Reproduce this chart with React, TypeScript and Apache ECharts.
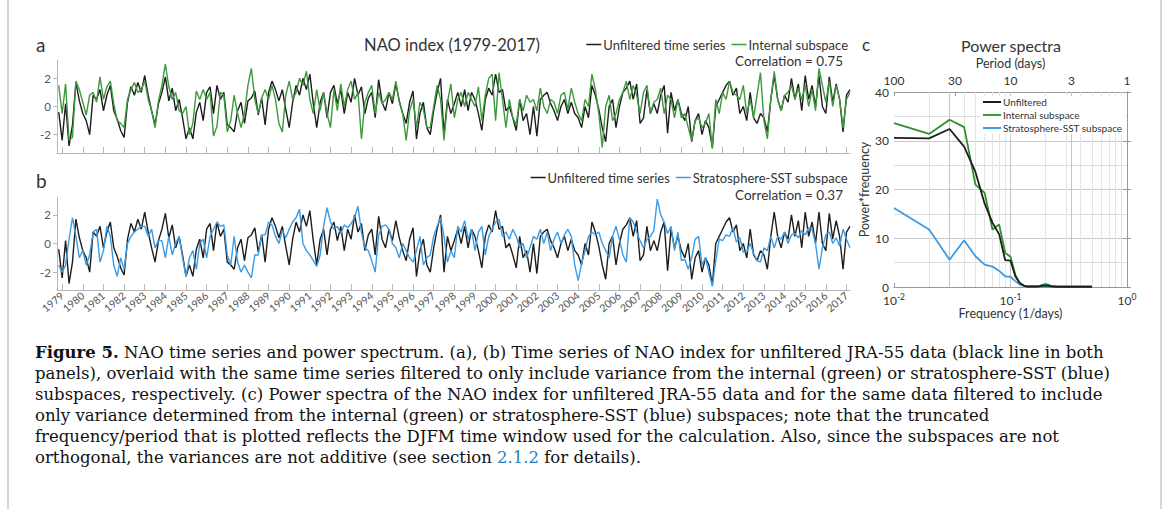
import React, { useEffect, useRef } from 'react';
import * as echarts from 'echarts';

// ---------- data ----------
const YEAR_TICKS = [
  1979, 1980, 1981, 1982, 1983, 1984, 1985, 1986, 1987, 1988, 1989, 1990, 1991,
  1992, 1993, 1994, 1995, 1996, 1997, 1998, 1999, 2000, 2001, 2002, 2003, 2004,
  2005, 2006, 2007, 2008, 2009, 2010, 2011, 2012, 2013, 2014, 2015, 2016, 2017,
];
const NAO_TICKS = [-2, 0, 2];

// NAO index, 6 samples per winter (first sample at 1978.83)
const UNFILTERED = [
  -0.4, -2.4, 0.2, -2.8, -1.3, 1.7,
  0.4, -0.5, -1.0, -2.0, 0.8, 0.5,
  1.2, -0.3, 0.8, 1.5, -0.3, -0.9,
  -1.7, -2.2, 0.3, 1.4, 0.8, 1.7,
  1.0, 2.2, 0.8, -0.3, -1.3, 0.2,
  1.0, 2.1, 0.4, 1.3, -0.3, 0.5,
  -0.8, -2.3, -1.5, -2.3, -0.4, 0.3,
  -1.0, 1.0, 1.4, -0.5, 1.5, 0.5,
  1.0, -1.3, -1.5, -1.8, -0.3, 0.3,
  -1.2, 0.4, 0.6, 1.1, -0.6, 0.6,
  -1.3, 1.0, 1.8, 1.2, 0.4, 1.2,
  -0.2, -1.5, 0.3, 1.5, 0.8, 2.0,
  1.2, 2.3, 0.2, -1.5, 0.3, 1.0,
  -0.8, 1.0, 1.5, 0.2, 1.2, -0.5,
  1.0, 0.3, 2.0, 0.8, 1.4, -0.5,
  0.6, 1.0, -0.8, 1.9, 0.3, -0.3,
  1.0, 0.2, 1.6, 0.4, -0.5, -1.2,
  0.3, 1.1, -2.3, -0.5, 0.3, -1.5,
  -2.0, -0.3, 1.0, 2.0, -2.0, 0.5,
  -0.5, 0.2, 1.0, 0.0, 1.2, -0.3,
  1.0, 0.5, -0.5, -1.7, 0.5, 1.3,
  0.8, 2.3, 1.0, 1.2, -0.3, 0.0,
  -0.8, -1.7, 0.5, -1.0, -0.5, -2.0,
  0.0, -2.1, 0.5, 0.8, 1.0, 0.2,
  -0.3, -1.0, 0.0, 0.5, -0.5, 0.3,
  -0.5, -0.8, -1.5, 0.0, -0.8, 1.5,
  0.8, -0.2, -1.5, -2.5, 0.0, 0.5,
  -1.5, 0.0, 1.0, 1.3, 1.8, 0.5,
  1.6, -1.2, -0.8, 1.2, -0.5, 0.2,
  -0.5, 0.8, 1.5, -1.9, 1.0, -0.3,
  0.5, -0.5, -1.0, 0.0, -2.5, -1.0,
  -0.5, -2.0, -1.0, -1.5, -2.9, 0.0,
  0.5, 1.0, 1.5, 1.8, 0.8, 1.3,
  -0.5, 0.0, -1.0, 1.0, -0.8, -1.2,
  -0.5, -0.8, -1.8, 0.5, 2.2, 0.5,
  -0.3, 0.8, 0.3, 2.0, 0.5, 1.6,
  -0.3, 2.2, 0.5, 1.5, 0.0, 2.2,
  0.0, -0.5, 2.1, 0.3, 1.6, 0.5,
  -1.8, 0.8, 1.2,
];

const INTERNAL = [
  1.5, -0.5, 1.6, -2.4, -2.2, 1.8,
  1.2, 0.3, -0.6, 0.8, 1.0, 0.3,
  2.1, 0.5, 1.4, 1.8, 0.2, -1.0,
  -1.2, -1.5, 0.5, 1.2, 1.7, 1.0,
  1.2, 1.8, 0.5, -0.3, -1.5, 0.4,
  1.5, 3.0, 1.4, 0.5, 1.0, -0.3,
  -0.5, 0.0, -2.0, -1.2, 1.1, 0.5,
  1.2, 0.5, 1.0, -2.1, -1.4, 1.0,
  0.8, -1.8, -1.0, 0.8, -0.5, -1.5,
  -0.5, 1.5, 2.7, 0.5, -0.5, 0.6,
  1.2, 0.5, 1.5, 0.5, -1.2, -1.8,
  0.8, 1.8, 0.5, 1.0, 2.0, 1.5,
  2.5, 0.5, -0.5, 1.2, -0.3, 1.0,
  -0.5, -1.5, 1.2, -0.3, 1.6, 0.0,
  1.2, 1.8, 0.5, 1.0, -2.3, 0.3,
  1.0, 1.5, -0.5, 1.0, 0.2, 0.5,
  1.0, 0.5, 1.8, 0.3, -0.5, -2.4,
  -0.3, 0.5, -1.5, 0.3, -0.2, -1.5,
  -1.5, 0.0, 1.5, 0.5, -2.4, 0.3,
  1.6, -0.8, 0.5, 1.0, 0.0, 1.0,
  0.5, 0.0, 1.4, -1.0, 0.8, 2.0,
  2.3, -1.0, 2.4, 0.5, -1.5, 0.5,
  -0.8, -1.3, 0.5, -0.3, 0.8, 0.3,
  0.5, -0.3, 1.3, 0.0, -0.5, 0.5,
  0.3, -0.5, 0.8, 1.0, -0.2, 1.3,
  0.3, -0.5, -1.0, 0.5, 0.0, 2.3,
  1.2, -0.5, -2.9, 0.0, 0.8, -1.0,
  -0.5, 0.5, 1.0, 1.8, 0.5, 1.5,
  0.8, -0.5, 1.0, 1.5, -0.5, 0.3,
  0.5, 1.3, -0.5, 0.8, 0.5, -0.8,
  0.5, -0.8, -0.5, -1.5, -2.4, -1.0,
  -0.8, -1.5, -1.2, -0.5, -3.0, 0.5,
  -0.5, 1.0, 0.5, 1.8, 1.0, 0.8,
  0.5, 1.5, -0.5, 0.5, -0.8, 0.8,
  2.4, -1.0, -2.3, 0.5, 2.5, 0.5,
  -0.3, 0.8, 1.0, 1.5, 0.5, 1.3,
  0.5, 1.5, 0.0, 1.2, -0.3, 2.7,
  1.5, 0.3, 1.8, 0.0, 1.5, 0.5,
  -1.5, 0.5, 1.0,
];

const STRAT_SST = [
  -1.5, -2.0, -1.5, 0.3, 1.8, 0.5,
  -1.0, -0.5, -1.5, -0.8, 0.8, 1.0,
  -1.3, -0.5, 1.2, 0.5, -1.5, -2.3,
  -1.0, -1.8, 0.0, 0.5, 0.8, 1.0,
  1.2, 1.2, 0.5, 1.0, -0.3, 0.2,
  0.2, -1.0, 0.5, -0.8, 0.0, 0.5,
  -1.0, -2.3, -1.0, -0.5, -1.8, 0.0,
  0.3, -1.0, 0.5, 1.0, 1.5, 1.2,
  1.3, -0.8, -1.5, 0.5, -1.3, -2.0,
  -1.5, -2.0, -2.4, -0.8, -0.8, 0.6,
  0.6, 1.5, 1.3, 0.5, 0.0, 0.9,
  0.4, 1.0, 1.5, 1.8, 2.4, 0.0,
  -0.5, -0.8, -1.2, -1.6, -0.8, 1.2,
  2.5, 1.5, 1.0, 1.2, 0.7, 1.3,
  1.1, 1.4, 1.8, 2.6, 0.8, -0.3,
  -0.5, -1.2, -2.0, 0.6, 1.2, 1.3,
  1.0, 0.0, -0.3, -1.0, 0.0, -0.5,
  -1.0, -1.3, -0.5, 0.5, -1.5, -1.0,
  -0.8, 0.5, 1.2, 1.8, 0.5, -1.3,
  -0.5, -1.0, 1.2, 0.8, 1.6, 0.3,
  1.0, -0.5, 0.8, 1.2, -0.8, 0.5,
  1.0, 1.5, 1.7, 0.5, 0.8, 0.3,
  1.0, 0.5, -0.3, 0.0, -1.0, -0.3,
  0.5, 0.3, 1.0, 0.0, 0.8, -0.5,
  0.3, 0.8, 0.0, 0.6, 1.0, 0.5,
  -1.5, -2.6, -1.4, -0.5, 0.5, 0.8,
  0.6, 0.8, 0.0, -0.5, -1.0, 0.5,
  1.2, 0.3, -0.8, -1.3, 1.8, 1.5,
  0.8, 0.2, -0.3, 0.3, 0.5, 0.9,
  3.1, 2.0, 1.5, 0.7, 1.2, -0.5,
  0.8, -1.2, -1.1, -1.8, -1.0, 0.3,
  0.5, -1.5, -1.0, -2.0, -3.0, -1.2,
  0.3, 0.2, 0.6, 0.5, 1.1, 0.1,
  0.4, -0.6, -0.6, 0.0, -0.7, -1.2,
  -1.3, -0.3, -0.5, 0.5, -0.3, 0.5,
  0.3, 0.8, 0.0, 0.6, 0.7, 0.4,
  0.9, 0.6, 1.1, 1.0, 0.0, -1.8,
  -0.3, 0.6, 0.8, 0.0, 0.4, -0.2,
  1.0, 0.3, -0.3,
];

// Power spectra (frequency 0.01 ... 0.50 1/days)
const SPEC_UNFILTERED = [
  30.6, 30.5, 32.4, 28.8, 23.6, 17.1, 13.2, 10.8, 5.5, 5.4,
  2.2, 0.8, 0.3, 0.1, 0.1, 0.1, 0.1, 0.2, 0.3, 0.3,
  0.3, 0.2, 0.1, 0.1, 0.05, 0.05, 0.05, 0.05, 0.05, 0.05,
  0.05, 0.05, 0.05, 0.05, 0.05, 0.05, 0.05, 0.05, 0.05, 0.05,
  0.05, 0.05, 0.05, 0.05, 0.05, 0.05, 0.05, 0.05, 0.05, 0.05,
];
const SPEC_INTERNAL = [
  33.6, 31.4, 34.3, 32.8, 21.0, 19.3, 11.8, 12.8, 7.0, 6.2,
  2.5, 0.8, 0.3, 0.1, 0.1, 0.1, 0.2, 0.3, 0.5, 0.6,
  0.5, 0.3, 0.1, 0.05, 0.05, 0.05, 0.05, 0.05, 0.05, 0.05,
  0.05, 0.05, 0.05, 0.05, 0.05, 0.05, 0.05, 0.05, 0.05, 0.05,
  0.05, 0.05, 0.05, 0.05, 0.05, 0.05, 0.05, 0.05, 0.05, 0.05,
];
const SPEC_STRAT = [
  16.2, 11.8, 5.6, 9.6, 6.3, 4.6, 4.2, 3.3, 2.2, 2.1,
  1.2, 0.5, 0.2, 0.1, 0.05, 0.05, 0.05, 0.05, 0.05, 0.05,
  0.05, 0.05, 0.05, 0.05, 0.05, 0.05, 0.05, 0.05, 0.05, 0.05,
  0.05, 0.05, 0.05, 0.05, 0.05, 0.05, 0.05, 0.05, 0.05, 0.05,
  0.05, 0.05, 0.05, 0.05, 0.05, 0.05, 0.05, 0.05, 0.05, 0.05,
];
const PERIOD_TICKS = [100, 30, 10, 3, 1];
const MINOR_FREQ = [0.02, 0.03, 0.04, 0.05, 0.06, 0.07, 0.08, 0.09, 0.2, 0.3, 0.4, 0.5, 0.6, 0.7, 0.8, 0.9];
const SPEC_Y_TICKS = [0, 10, 20, 30, 40];

const CAPTION = [
  '{b|Figure 5.} NAO time series and power spectrum. (a), (b) Time series of NAO index for unfiltered JRA-55 data (black line in both',
  'panels), overlaid with the same time series filtered to only include variance from the internal (green) or stratosphere-SST (blue)',
  'subspaces, respectively. (c) Power spectra of the NAO index for unfiltered JRA-55 data and for the same data filtered to include',
  'only variance determined from the internal (green) or stratosphere-SST (blue) subspaces; note that the truncated',
  'frequency/period that is plotted reflects the DJFM time window used for the calculation. Also, since the subspaces are not',
  'orthogonal, the variances are not additive (see section {l|2.1.2} for details).',
];

// ---------- helpers ----------
const T0 = 1979 - 1 / 6;
const toTime = (arr: number[]) => arr.map((v, i) => [T0 + i / 6, v]);
const FREQ = SPEC_UNFILTERED.map((_, i) => (i + 1) / 100);
const toSpec = (arr: number[]) => arr.map((v, i) => [FREQ[i], v]);

const FONT = 'Lato, "Open Sans", sans-serif';
const SERIF = '"DejaVu Serif", "Liberation Serif", serif';
const AX = '#b8b8b8';
const LBL = '#555';
const BLACK = '#1d1d1d';
const GREEN = '#3c9a3c';
const BLUE = '#3a9be6';
const CAP_SIZE = 16.5;
const CAP_LH = 19;

export default function App() {
  const ref = useRef<HTMLDivElement>(null);

  useEffect(() => {
    if (!ref.current) return;
    const chart = echarts.init(ref.current, undefined, { renderer: 'svg' });

    const timeXAxis = (grid: number, labels: boolean) => ({
      gridIndex: grid,
      type: 'value',
      min: 1978.75,
      max: 2017.17,
      splitLine: { show: false },
      axisLine: { show: true, onZero: false, lineStyle: { color: AX, width: 1 } },
      axisTick: { show: true, inside: true, length: 6, customValues: YEAR_TICKS, lineStyle: { color: AX } },
      axisLabel: labels
        ? {
            show: true,
            customValues: YEAR_TICKS,
            rotate: 40,
            fontSize: 10.5,
            color: LBL,
            fontFamily: FONT,
            margin: 4,
            formatter: (v: number) => String(Math.round(v)),
          }
        : { show: false },
    });
    const timeYAxis = (grid: number, lim: number) => ({
      gridIndex: grid,
      type: 'value',
      min: -lim,
      max: lim,
      splitLine: { show: false },
      axisLine: { show: true, lineStyle: { color: AX } },
      axisTick: { show: true, length: 4, customValues: NAO_TICKS, lineStyle: { color: AX } },
      axisLabel: {
        customValues: NAO_TICKS,
        fontSize: 11.5,
        color: LBL,
        fontFamily: FONT,
        margin: 6,
      },
    });

    const periodPos = PERIOD_TICKS.map((p) => Math.log10(1 / p));

    const text = (t: string, x: number, y: number, size: number, align = 'left', extra: any = {}) => ({
      type: 'text',
      x,
      y,
      silent: true,
      style: {
        text: t,
        fontSize: size,
        fontFamily: FONT,
        fill: '#333',
        align,
        verticalAlign: 'middle',
        ...extra,
      },
    });

    const legendText = { fontSize: 13, color: '#333', fontFamily: FONT, padding: [0, 0, 0, -3] };

    const option: any = {
      animation: false,
      backgroundColor: '#fff',
      textStyle: { fontFamily: FONT },
      grid: [
        { left: 57, top: 60, width: 793, height: 93 },
        { left: 57, top: 197, width: 793, height: 93 },
        { left: 894, top: 92, width: 233, height: 195 },
      ],
      xAxis: [
        timeXAxis(0, false),
        timeXAxis(1, true),
        {
          gridIndex: 2,
          type: 'log',
          logBase: 10,
          min: 0.01,
          max: 1,
          splitLine: { show: false },
          axisLine: { show: true, onZero: false, lineStyle: { color: '#999' } },
          axisTick: { show: true, inside: true, length: 4, lineStyle: { color: '#999' } },
          axisLabel: {
            fontSize: 12,
            color: '#333',
            margin: 5,
            formatter: (v: number) => `{b|10}{s|${Math.round(Math.log10(v))}}`,
            rich: {
              b: { fontSize: 12, color: '#333', fontFamily: FONT },
              s: { fontSize: 8.5, color: '#333', fontFamily: FONT, padding: [0, 0, 8, 0] },
            },
          },
          name: 'Frequency (1/days)',
          nameLocation: 'middle',
          nameGap: 15,
          nameTextStyle: { fontSize: 12.5, color: '#333', fontFamily: FONT },
        },
        {
          gridIndex: 2,
          type: 'value',
          position: 'top',
          min: -2,
          max: 0,
          splitLine: { show: false },
          axisLine: { show: true, onZero: false, lineStyle: { color: '#999' } },
          axisTick: { show: true, inside: true, length: 4, customValues: periodPos, lineStyle: { color: '#999' } },
          axisLabel: {
            customValues: periodPos,
            fontSize: 12,
            color: '#333',
            margin: 6,
            formatter: (v: number) => String(Math.round(Math.pow(10, -v))),
          },
          name: 'Period (days)',
          nameLocation: 'middle',
          nameGap: 22,
          nameTextStyle: { fontSize: 12.5, color: '#333', fontFamily: FONT },
        },
      ],
      yAxis: [
        timeYAxis(0, 3.3),
        timeYAxis(1, 3.25),
        {
          gridIndex: 2,
          type: 'value',
          min: 0,
          max: 40,
          interval: 10,
          axisLine: { show: true, lineStyle: { color: '#999' } },
          axisTick: { show: true, inside: true, length: 4, lineStyle: { color: '#999' } },
          axisLabel: { fontSize: 12, color: '#333', margin: 5, customValues: SPEC_Y_TICKS },
          splitLine: { show: true, lineStyle: { color: '#c9c9c9', width: 1 } },
          minorTick: { show: false, splitNumber: 2 },
          minorSplitLine: { show: true, lineStyle: { color: '#dedede', width: 1 } },
          name: 'Power*frequency',
          nameLocation: 'middle',
          nameGap: 21,
          nameTextStyle: { fontSize: 12.5, color: '#333', fontFamily: FONT },
        },
        {
          gridIndex: 2,
          type: 'value',
          position: 'right',
          min: 0,
          max: 40,
          interval: 10,
          axisLine: { show: true, lineStyle: { color: '#999' } },
          axisTick: { show: true, inside: true, length: 4, lineStyle: { color: '#999' } },
          axisLabel: { show: false },
          splitLine: { show: false },
        },
      ],
      legend: [
        {
          data: ['Unfiltered time series', 'Internal subspace'],
          right: 323,
          top: 38,
          icon: 'rect',
          itemWidth: 15,
          itemHeight: 1.5,
          itemGap: 6,
          padding: 0,
          selectedMode: false,
          textStyle: legendText,
        },
        {
          data: ['Unfiltered time series', 'Stratosphere-SST subspace'],
          right: 323,
          top: 171,
          icon: 'rect',
          itemWidth: 15,
          itemHeight: 1.5,
          itemGap: 6,
          padding: 0,
          selectedMode: false,
          textStyle: legendText,
        },
        {
          data: ['Unfiltered', 'Internal subspace', 'Stratosphere-SST subspace'],
          orient: 'vertical',
          left: 980,
          top: 96,
          icon: 'rect',
          itemWidth: 18,
          itemHeight: 2,
          itemGap: 3,
          padding: [1, 3],
          backgroundColor: '#fff',
          selectedMode: false,
          textStyle: { fontSize: 10, color: '#333', fontFamily: FONT, padding: [0, 0, 0, -3] },
        },
      ],
      series: [
        {
          name: 'Unfiltered time series',
          type: 'line',
          xAxisIndex: 0,
          yAxisIndex: 0,
          data: toTime(UNFILTERED),
          showSymbol: false,
          lineStyle: { color: BLACK, width: 1.4 },
          itemStyle: { color: BLACK },
          z: 2,
        },
        {
          name: 'Internal subspace',
          type: 'line',
          xAxisIndex: 0,
          yAxisIndex: 0,
          data: toTime(INTERNAL),
          showSymbol: false,
          lineStyle: { color: GREEN, width: 1.4 },
          itemStyle: { color: GREEN },
          z: 3,
        },
        {
          name: 'Unfiltered time series',
          type: 'line',
          xAxisIndex: 1,
          yAxisIndex: 1,
          data: toTime(UNFILTERED),
          showSymbol: false,
          lineStyle: { color: BLACK, width: 1.4 },
          itemStyle: { color: BLACK },
          z: 2,
        },
        {
          name: 'Stratosphere-SST subspace',
          type: 'line',
          xAxisIndex: 1,
          yAxisIndex: 1,
          data: toTime(STRAT_SST),
          showSymbol: false,
          lineStyle: { color: BLUE, width: 1.4 },
          itemStyle: { color: BLUE },
          z: 3,
        },
        {
          name: 'gridlines',
          type: 'line',
          xAxisIndex: 2,
          yAxisIndex: 2,
          data: [],
          silent: true,
          markLine: {
            silent: true,
            symbol: 'none',
            z: 1,
            label: { show: false },
            data: [
              ...MINOR_FREQ.map((f) => ({ xAxis: f, lineStyle: { color: '#e4e4e4', width: 1, type: 'solid' } })),
              ...PERIOD_TICKS.slice(1, 4).map((p) => ({
                xAxis: 1 / p,
                lineStyle: { color: '#c4c4c4', width: 1, type: 'solid' },
              })),
            ],
          },
        },
        {
          name: 'Unfiltered',
          type: 'line',
          xAxisIndex: 2,
          yAxisIndex: 2,
          data: toSpec(SPEC_UNFILTERED),
          showSymbol: false,
          lineStyle: { color: BLACK, width: 1.8 },
          itemStyle: { color: BLACK },
          z: 4,
        },
        {
          name: 'Internal subspace',
          type: 'line',
          xAxisIndex: 2,
          yAxisIndex: 2,
          data: toSpec(SPEC_INTERNAL),
          showSymbol: false,
          lineStyle: { color: '#2f8f2f', width: 1.8 },
          itemStyle: { color: '#2f8f2f' },
          z: 3,
        },
        {
          name: 'Stratosphere-SST subspace',
          type: 'line',
          xAxisIndex: 2,
          yAxisIndex: 2,
          data: toSpec(SPEC_STRAT),
          showSymbol: false,
          lineStyle: { color: BLUE, width: 1.8 },
          itemStyle: { color: BLUE },
          z: 3,
        },
      ],
      graphic: [
        { type: 'line', silent: true, shape: { x1: 8, y1: 0, x2: 8, y2: 509 }, style: { stroke: '#c8c8c8', lineWidth: 1.5 } },
        { type: 'line', silent: true, shape: { x1: 1161, y1: 0, x2: 1161, y2: 509 }, style: { stroke: '#c8c8c8', lineWidth: 1.5 } },
        text('a', 36, 44, 19),
        text('NAO index (1979-2017)', 452, 45, 16.5, 'center'),
        text('Correlation = 0.75', 843, 61, 13.5, 'right'),
        text('b', 36, 180, 19),
        text('Correlation = 0.37', 843, 195, 13.5, 'right'),
        text('c', 862, 44, 17),
        text('Power spectra', 1011, 45, 16, 'center'),
        ...CAPTION.map((line, i) =>
          text(line, 35, 352 + i * 21, CAP_SIZE, 'left', {
            fontFamily: SERIF,
            fill: '#111',
            lineHeight: CAP_LH,
            rich: {
              b: { fontWeight: 'bold', fontSize: CAP_SIZE, lineHeight: CAP_LH, fontFamily: SERIF, fill: '#111' },
              l: { fontSize: CAP_SIZE, lineHeight: CAP_LH, fontFamily: SERIF, fill: '#2a7fc0' },
            },
          })
        ),
      ],
    };

    chart.setOption(option);
    return () => chart.dispose();
  }, []);

  return (
    <div
      ref={ref}
      style={{ position: 'fixed', left: 0, top: 0, width: 1171, height: 509, background: '#fff' }}
    />
  );
}
